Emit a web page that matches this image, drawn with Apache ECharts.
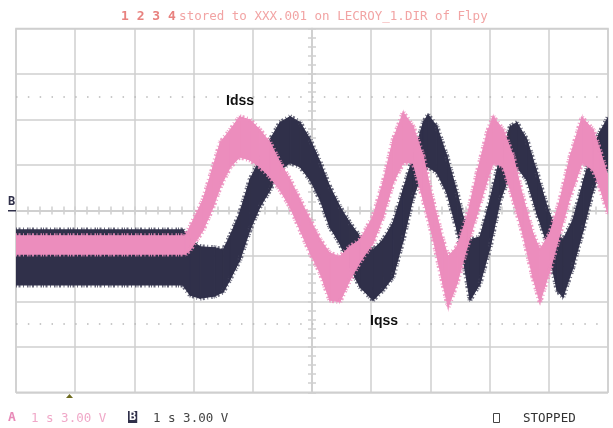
<!DOCTYPE html>
<html>
<head>
<meta charset="utf-8">
<script src="https://cdn.jsdelivr.net/npm/echarts@6/dist/echarts.min.js"></script>
<style>
  html, body { margin: 0; padding: 0; background: #fff; }
  #scope { width: 613px; height: 428px; }
</style>
</head>
<body>
<div id="scope"></div>
<script>
// time in screen divisions (10 across), amplitude in divisions (8 high, 0 = centre)
// each trace is a noisy band: upper / lower edge
var idssTime  = [0, 2.86, 2.94, 3.16, 3.33, 3.45, 3.62, 3.78, 3.95, 4.12, 4.29, 4.46, 4.63, 4.80, 4.97, 5.14, 5.30, 5.47, 5.64, 5.81, 6.03, 6.20, 6.37, 6.54, 6.71, 6.88, 7.04, 7.21, 7.30, 7.45, 7.62, 7.79, 7.96, 8.06, 8.23, 8.40, 8.56, 8.73, 8.85, 9.02, 9.19, 9.36, 9.56, 9.75, 9.86, 10];
var idssUpper = [-0.56, -0.56, -0.36, 0.23, 0.96, 1.49, 1.77, 2.06, 1.99, 1.77, 1.49, 1.05, 0.67, 0.23, -0.21, -0.65, -0.94, -1.02, -0.80, -0.65, -0.14, 0.61, 1.55, 2.15, 1.84, 1.18, 0.23, -0.65, -1.02, -0.80, -0.14, 0.83, 1.71, 2.06, 1.77, 1.18, 0.30, -0.50, -0.87, -0.50, 0.23, 1.18, 2.04, 1.77, 1.33, 0.74];
var idssLower = [-0.96, -0.96, -0.87, -0.43, 0.08, 0.52, 0.96, 1.18, 1.11, 0.96, 0.74, 0.45, 0.08, -0.43, -0.94, -1.38, -1.97, -2.01, -1.53, -1.13, -0.72, -0.14, 0.61, 1.05, 1.05, 0.23, -0.58, -1.60, -2.12, -1.60, -0.80, -0.06, 0.67, 1.05, 0.96, 0.23, -0.50, -1.46, -2.01, -1.31, -0.50, 0.30, 1.05, 0.89, 0.52, -0.06];

var iqssTime  = [0, 2.82, 2.94, 3.11, 3.36, 3.50, 3.61, 3.78, 3.95, 4.12, 4.29, 4.46, 4.63, 4.80, 4.97, 5.14, 5.30, 5.47, 5.64, 5.81, 6.03, 6.20, 6.37, 6.54, 6.71, 6.88, 6.96, 7.11, 7.28, 7.45, 7.55, 7.67, 7.84, 8.01, 8.18, 8.35, 8.46, 8.63, 8.80, 8.97, 9.14, 9.24, 9.41, 9.58, 9.75, 9.86, 10];
var iqssUpper = [-0.43, -0.43, -0.65, -0.80, -0.82, -0.87, -0.58, -0.06, 0.67, 1.11, 1.55, 1.93, 2.06, 1.93, 1.55, 1.05, 0.52, 0.08, -0.28, -0.58, -0.87, -0.65, -0.28, 0.45, 1.18, 1.93, 2.10, 1.84, 1.18, 0.39, -0.14, -0.65, -0.58, 0.23, 1.18, 1.84, 1.93, 1.55, 0.83, 0.08, -0.50, -0.65, -0.21, 0.61, 1.40, 1.71, 2.04];
var iqssLower = [-1.64, -1.64, -1.86, -1.93, -1.88, -1.79, -1.53, -1.09, -0.43, 0.08, 0.45, 0.89, 1.05, 0.96, 0.67, 0.23, -0.36, -0.72, -1.24, -1.68, -1.97, -1.75, -1.46, -0.65, 0.30, 0.89, 0.96, 0.83, 0.39, -0.43, -1.02, -1.97, -1.60, -0.80, 0.23, 0.83, 0.96, 0.67, -0.06, -0.72, -1.75, -1.90, -1.24, -0.43, 0.45, 0.83, 0.89];

var dotRows = [2.5, -2.5]; // dotted graticule rows

var gridLine = '#cfcfcf';
var mono = '"DejaVu Sans Mono", "Liberation Mono", monospace';

// one quad per pair of neighbouring samples: [t0, lo0, hi0, t1, lo1, hi1]
// edges get an uneven dashed stroke so they look hairy like the scope noise
function band(name, time, upper, lower, fill, fuzz, z) {
  var segs = [];
  for (var i = 1; i < time.length; i++) {
    segs.push([time[i - 1], lower[i - 1], upper[i - 1], time[i], lower[i], upper[i]]);
  }
  return {
    name: name, type: 'custom', silent: true, z: z, clip: true,
    encode: { x: [0, 3], y: [1, 2, 4, 5] },
    data: segs,
    renderItem: function (params, api) {
      var p = [
        api.coord([api.value(0), api.value(1)]),
        api.coord([api.value(0), api.value(2)]),
        api.coord([api.value(3), api.value(5)]),
        api.coord([api.value(3), api.value(4)])
      ];
      var edge = { stroke: fuzz, lineWidth: 5, lineDash: [1, 1.5, 2, 2.5, 1, 3, 1.5, 1], fill: null };
      return {
        type: 'group',
        children: [
          { type: 'line', shape: { x1: p[1][0], y1: p[1][1], x2: p[2][0], y2: p[2][1] }, style: edge },
          { type: 'line', shape: { x1: p[0][0], y1: p[0][1], x2: p[3][0], y2: p[3][1] }, style: edge },
          { type: 'polygon', shape: { points: p }, style: { fill: fill, stroke: fill, lineWidth: 1.2 } }
        ]
      };
    }
  };
}

var iqss = band('Iqss', iqssTime, iqssUpper, iqssLower, '#30304a', 'rgba(70,70,94,0.8)', 5);
var idss = band('Idss', idssTime, idssUpper, idssLower, '#ec8dbd', 'rgba(236,141,189,0.85)', 6);

// dotted rows hang on the first series
iqss.markLine = {
  silent: true, symbol: 'none', animation: false, z: 1,
  label: { show: false },
  lineStyle: { color: '#b8b8b8', width: 1.5, type: [1.5, 10.34] },
  data: dotRows.map(function (v) { return { yAxis: v }; })
};

// centre cross tick marks (second grid, centred axes)
function centreAxis(pos, dim) {
  return {
    type: 'value', gridIndex: 1, position: pos, z: 0,
    min: dim === 'x' ? -5 : -4, max: dim === 'x' ? 5 : 4, interval: 1,
    axisLine: { show: true, onZero: true, lineStyle: { color: gridLine, width: 1.5 } },
    axisTick: { show: true, inside: false, length: 4, lineStyle: { color: gridLine, width: 1.5 } },
    minorTick: { show: true, splitNumber: 5, length: 4, lineStyle: { color: gridLine, width: 1.5 } },
    axisLabel: { show: false },
    splitLine: { show: false }
  };
}

var chart = echarts.init(document.getElementById('scope'));
var option = {
  animation: false,
  backgroundColor: '#fff',
  grid: [
    { left: 16, right: 5, top: 28.5, bottom: 35.7, show: true, borderColor: gridLine, borderWidth: 1.5 },
    { left: 16, right: 5, top: 28.5, bottom: 35.7 }
  ],
  xAxis: [
    {
      type: 'value', gridIndex: 0, min: 0, max: 10, interval: 1, z: 0,
      axisLine: { show: false }, axisTick: { show: false }, axisLabel: { show: false },
      splitLine: { show: true, lineStyle: { color: gridLine, width: 1.5 } }
    },
    centreAxis('bottom', 'x'),
    centreAxis('top', 'x')
  ],
  yAxis: [
    {
      type: 'value', gridIndex: 0, min: -4, max: 4, interval: 1, z: 0,
      axisLine: { show: false }, axisTick: { show: false }, axisLabel: { show: false },
      splitLine: { show: true, lineStyle: { color: gridLine, width: 1.5 } }
    },
    centreAxis('left', 'y'),
    centreAxis('right', 'y')
  ],
  series: [iqss, idss],
  graphic: {
    elements: [
      // header
      {
        type: 'text', left: 121, top: 10, silent: true, z: 100,
        style: {
          text: '{n|1 2 3 4} {t|stored to XXX.001 on LECROY_1.DIR of Flpy}',
          rich: {
            n: { font: 'bold 13px ' + mono, fill: '#e8827f' },
            t: { font: '12.5px ' + mono, fill: '#f2a4a4' }
          }
        }
      },
      // trace labels
      { type: 'text', left: 226, top: 94, silent: true, z: 100, style: { text: 'Idss', font: 'bold 14px "Liberation Sans", Arial, sans-serif', fill: '#111' } },
      { type: 'text', left: 370, top: 314, silent: true, z: 100, style: { text: 'Iqss', font: 'bold 14px "Liberation Sans", Arial, sans-serif', fill: '#111' } },
      // channel B marker on the left edge
      { type: 'text', left: 8, top: 196, silent: true, z: 100, style: { text: 'B', font: 'bold 12px ' + mono, fill: '#30304a' } },
      { type: 'rect', z: 100, shape: { x: 8, y: 210, width: 8, height: 1.5 }, style: { fill: '#30304a' }, silent: true },
      // trigger marker
      { type: 'polygon', z: 100, shape: { points: [[66, 398], [69.5, 394], [73, 398]] }, style: { fill: '#6e6b1f' }, silent: true },
      // footer
      { type: 'text', left: 8, top: 411, silent: true, z: 100, style: { text: 'A', font: 'bold 13px ' + mono, fill: '#e88ab8' } },
      { type: 'text', left: 31, top: 412, silent: true, z: 100, style: { text: '1 s 3.00 V', font: '12.5px ' + mono, fill: '#f0a8c8' } },
      {
        type: 'text', left: 128, top: 411, silent: true, z: 100,
        style: { text: 'B', font: 'bold 12px ' + mono, fill: '#fff', backgroundColor: '#30304a', padding: [0, 1, 0, 1] }
      },
      { type: 'text', left: 153, top: 412, silent: true, z: 100, style: { text: '1 s 3.00 V', font: '12.5px ' + mono, fill: '#444' } },
      { type: 'rect', z: 100, shape: { x: 493.5, y: 413.5, width: 6, height: 9 }, style: { fill: 'none', stroke: '#444', lineWidth: 1 }, silent: true },
      { type: 'text', left: 523, top: 412, silent: true, z: 100, style: { text: 'STOPPED', font: '12.5px ' + mono, fill: '#333' } }
    ]
  }
};
chart.setOption(option);
</script>
</body>
</html>
